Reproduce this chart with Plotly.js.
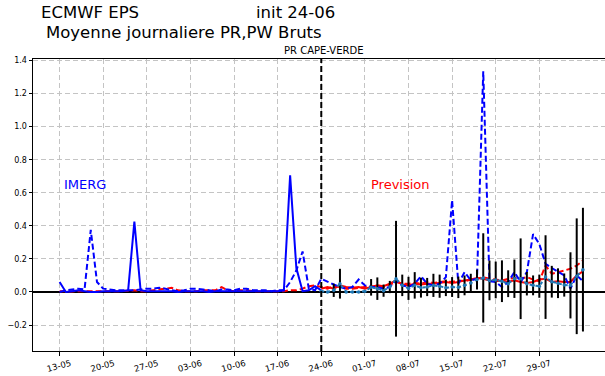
<!DOCTYPE html>
<html><head><meta charset="utf-8">
<script src="https://cdn.plot.ly/plotly-3.0.1.min.js"></script>
<style>html,body{margin:0;padding:0;background:#fff;} #chart{width:605px;height:376px;}</style>
</head><body><div id="chart"></div>
<script>
// ---- data ----
const startDate = '2024-05-13';   // day 0
const initDate = '2024-06-24';    // forecast init (day 42)
const fcStartDay = 42;
const tickDates = ['2024-05-13','2024-05-20','2024-05-27','2024-06-03','2024-06-10','2024-06-17','2024-06-24','2024-07-01','2024-07-08','2024-07-15','2024-07-22','2024-07-29'];
const tickLabels = ['13-05','20-05','27-05','03-06','10-06','17-06','24-06','01-07','08-07','15-07','22-07','29-07'];
const yTicks = [-0.2,0.0,0.2,0.4,0.6,0.8,1.0,1.2,1.4];

// IMERG solid, days 0..42
const imergSolid = [0.06,0.0,0.005,0.01,0.005,0.0,0.0,0.005,0.005,0.005,0.005,0.01,0.425,0.01,0.005,0.005,0.005,0.005,0.005,0.0,0.005,0.005,0.005,0.005,0.0,0.005,0.005,0.005,0.005,0.005,0.005,0.005,0.005,0.005,0.005,0.005,0.01,0.705,0.145,0.005,0.01,0.035,0.01];
// IMERG dashed, days 0..84
const imergDashed = [0.0,0.01,0.015,0.02,0.015,0.375,0.06,0.02,0.015,0.01,0.01,0.01,0.01,0.015,0.02,0.02,0.025,0.02,0.01,0.005,0.01,0.02,0.02,0.015,0.01,0.005,0.015,0.015,0.01,0.02,0.02,0.01,0.01,0.01,0.005,0.01,0.01,0.06,0.13,0.245,0.02,0.01,
  0.08,0.06,0.045,0.03,0.02,0.03,0.075,0.04,0.03,0.03,0.02,0.03,0.07,0.04,0.03,0.05,0.095,0.05,0.04,0.05,0.09,0.555,0.05,0.12,0.07,0.08,1.335,0.065,0.06,0.03,0.06,0.12,0.06,0.12,0.35,0.29,0.17,0.145,0.125,0.10,0.02,0.10,0.065];
// Prevision dashed, days 0..84
const prevDashed = [0.005,0.003,0.003,0.005,0.005,0.003,0.003,0.005,0.005,0.005,0.005,0.008,0.01,0.005,0.005,0.01,0.015,0.02,0.025,0.01,0.005,0.005,0.005,0.01,0.01,0.01,0.03,0.01,0.005,0.01,0.01,0.005,0.005,0.005,0.005,0.005,0.005,0.01,0.01,0.02,0.035,0.04,
  0.03,0.02,0.035,0.03,0.02,0.02,0.025,0.03,0.035,0.03,0.03,0.045,0.06,0.05,0.05,0.055,0.05,0.06,0.055,0.06,0.065,0.06,0.07,0.065,0.075,0.08,0.09,0.08,0.075,0.07,0.08,0.085,0.08,0.09,0.075,0.065,0.16,0.11,0.12,0.13,0.14,0.16,0.19];
// Prevision solid, days 42..84
const prevSolid = [0.02,0.03,0.02,0.04,0.03,0.025,0.03,0.02,0.03,0.04,0.035,0.05,0.07,0.045,0.04,0.05,0.045,0.05,0.05,0.055,0.06,0.055,0.06,0.07,0.075,0.085,0.08,0.07,0.065,0.07,0.06,0.07,0.06,0.055,0.06,0.075,0.08,0.06,0.065,0.06,0.06,0.10,0.125];
// Ensemble mean and spread, days 42..84
const ensMean = [0.005,0.0,0.01,0.05,0.0,0.0,0.0,0.005,0.028,0.02,0.008,0.03,0.08,0.04,0.022,0.04,0.026,0.03,0.04,0.035,0.025,0.03,0.028,0.04,0.055,0.075,0.085,0.07,0.073,0.065,0.05,0.08,0.08,0.05,0.04,0.035,0.09,0.062,0.053,0.042,0.04,0.095,0.135];
const ensSpread = [0,0,0.04,0.09,0,0,0,0,0.05,0.068,0.037,0.037,0.35,0.065,0.07,0.08,0.06,0.055,0.07,0.07,0.05,0.06,0.065,0.06,0.055,0.06,0.27,0.12,0.111,0.126,0.081,0.116,0.244,0.071,0.06,0.07,0.253,0.096,0.09,0.07,0.2,0.35,0.374];

// ---- helpers ----
const t0 = Date.parse(startDate + 'T00:00:00Z');
function dayDate(i){ const d = new Date(t0 + i*86400000); return d.toISOString().slice(0,16).replace('T',' '); }
function dates(n, off){ const a=[]; for(let i=0;i<n;i++) a.push(dayDate(i+off)); return a; }

const W=605,H=376, ML=33, MR=0, MT=59.3, MB=25.3;
const plotW=W-ML-MR, plotH=H-MT-MB;
const px2x = p => (p-ML)/plotW;
const px2y = p => (H-MB-p)/plotH;

const dashL = '6px,3px';
const traces = [
  {x: dates(prevDashed.length,0), y: prevDashed, mode:'lines', line:{color:'#ff0000', width:2, dash:dashL}, hoverinfo:'skip'},
  {x: dates(prevSolid.length,fcStartDay), y: prevSolid, mode:'lines', line:{color:'#ff0000', width:2}, hoverinfo:'skip'},
  {x: dates(imergDashed.length,0), y: imergDashed, mode:'lines', line:{color:'#0000ff', width:2, dash:dashL}, hoverinfo:'skip'},
  {x: dates(imergSolid.length,0), y: imergSolid, mode:'lines', line:{color:'#0000ff', width:2}, hoverinfo:'skip'},
  {x: dates(ensMean.length,fcStartDay), y: ensMean, mode:'lines+markers', line:{color:'#1f77b4', width:2, dash:'dot'}, marker:{size:3.5,color:'#1f77b4'},
   error_y:{type:'data', array: ensSpread, symmetric:true, color:'#000', thickness:2, width:0}, hoverinfo:'skip'}
];

const font = 'DejaVu Sans, sans-serif';
const layout = {
  width:W, height:H, margin:{l:ML, r:MR, t:MT, b:MB, pad:0},
  paper_bgcolor:'#fff', plot_bgcolor:'#fff', showlegend:false,
  font:{family:font, color:'#000'},
  xaxis:{type:'date', range:['2024-05-08 17:30','2024-08-08 13:00'], tickvals:tickDates, ticktext:tickLabels,
    tickangle:-15, ticks:'outside', ticklen:3.5, tickwidth:1, tickcolor:'#000', ticklabelshift:11,
    tickfont:{family:font, size:8.5, color:'#000'}, showline:true, linecolor:'#000', linewidth:1, mirror:true,
    showgrid:true, gridcolor:'#c4c4c4', gridwidth:1, griddash:'5px,3px', zeroline:false, automargin:false, fixedrange:true},
  yaxis:{range:[-0.357,1.409], tickvals:yTicks, tickformat:'.1f', ticks:'outside', ticklen:3.5, tickwidth:1, tickcolor:'#000',
    tickfont:{family:font, size:8, color:'#000'}, showline:true, linecolor:'#000', linewidth:1, mirror:false,
    showgrid:true, gridcolor:'#c4c4c4', gridwidth:1, griddash:'5px,3px',
    zeroline:true, zerolinecolor:'#000', zerolinewidth:1.5, automargin:false, fixedrange:true},
  shapes:[{type:'line', xref:'x', yref:'paper', x0:initDate, x1:initDate, y0:0, y1:1, line:{color:'#000', width:2, dash:dashL}}],
  annotations:[
    {xref:'paper', yref:'paper', x:px2x(38.5), y:px2y(13.3), xanchor:'left', yanchor:'middle', showarrow:false, text:'ECMWF EPS', font:{family:font, size:16.5, color:'#000'}},
    {xref:'paper', yref:'paper', x:px2x(253.5), y:px2y(13.3), xanchor:'left', yanchor:'middle', showarrow:false, text:'init 24-06', font:{family:font, size:16.5, color:'#000'}},
    {xref:'paper', yref:'paper', x:px2x(44), y:px2y(32.7), xanchor:'left', yanchor:'middle', showarrow:false, text:'Moyenne journaliere PR,PW Bruts', font:{family:font, size:16.5, color:'#000'}},
    {xref:'paper', yref:'paper', x:px2x(323), y:px2y(50.5), xanchor:'center', yanchor:'middle', showarrow:false, text:'PR CAPE-VERDE', font:{family:font, size:10, color:'#000'}},
    {xref:'x', yref:'y', x:dayDate(0.4), y:0.648, xanchor:'left', yanchor:'middle', showarrow:false, text:'IMERG', font:{family:font, size:13, color:'#0000ff'}},
    {xref:'x', yref:'y', x:dayDate(49.7), y:0.648, xanchor:'left', yanchor:'middle', showarrow:false, text:'Prevision', font:{family:font, size:13, color:'#ff0000'}}
  ]
};
Plotly.newPlot('chart', traces, layout, {displayModeBar:false, staticPlot:true});
</script></body></html>
